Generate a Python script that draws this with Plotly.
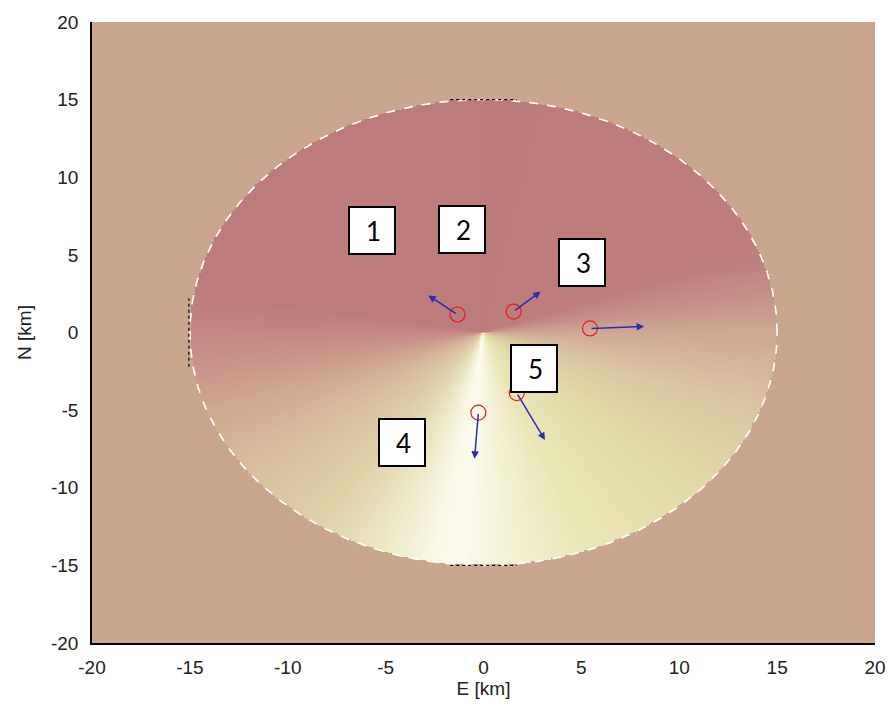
import numpy as np
import plotly.graph_objects as go

# ---- data -------------------------------------------------------------
disk_radius_km = 15.0

# colour of the field as a function of direction (deg, math angle, cut at north)
angle_stops = [-270, -190, -180, -170, -160, -145, -125, -110, -100, -95, -85, -70, -45, -20, 0, 10, 20, 90]
stop_colors = ["#BC7C7B", "#BC7C7B", "#C28782", "#C9968A", "#D0A890", "#D7BC9C",
               "#E0D0A8", "#EDE8C6", "#FAF8E6", "#FCFBEF", "#F4F2D6", "#E9E6B6",
               "#E3DCA9", "#DBC6A2", "#CFA894", "#C48F87", "#BD7E7C", "#BB7B7A"]

station_e = [-1.33, 1.54, 5.44, -0.26, 1.70]
station_n = [1.16, 1.35, 0.26, -5.16, -3.90]
vec_e = [-1.49, 1.38, 2.77, -0.20, 1.44]
vec_n = [1.23, 1.29, 0.13, -2.97, -3.03]

box_labels = ["1", "2", "3", "4", "5"]
box_e = [-5.69, -1.08, 5.03, -4.15, 2.56]
box_n = [6.58, 6.65, 4.50, -7.10, -2.32]

tick_vals = [-20, -15, -10, -5, 0, 5, 10, 15, 20]
tick_text = ["-20", "-15", "-10", "-5", "0", "5", "10", "15", "20"]

# ---- field ------------------------------------------------------------
g = np.linspace(-disk_radius_km, disk_radius_km, 301)
X, Y = np.meshgrid(g, g)
theta = np.degrees(np.arctan2(Y, X))
phi = np.where(theta > 90, theta - 360, theta)
phi = np.where(np.hypot(X, Y) <= disk_radius_km, phi, np.nan)

lo, hi = angle_stops[0], angle_stops[-1]
colorscale = [[(a - lo) / (hi - lo), c] for a, c in zip(angle_stops, stop_colors)]

fig = go.Figure()
fig.add_trace(go.Heatmap(x=g, y=g, z=phi, zmin=lo, zmax=hi, colorscale=colorscale,
                         showscale=False, hoverinfo="skip"))

# dashed white rim
t = np.linspace(0, 2 * np.pi, 400)
fig.add_trace(go.Scatter(x=disk_radius_km * np.cos(t), y=disk_radius_km * np.sin(t),
                         mode="lines", line=dict(color="white", width=1.6, dash="dash"),
                         hoverinfo="skip", showlegend=False))
# small black dotted rim segments
for xs, ys in [([-1.7, 1.7], [15, 15]), ([-1.7, 1.7], [-15, -15]), ([-15.05, -15.05], [-2.2, 2.2])]:
    fig.add_trace(go.Scatter(x=xs, y=ys, mode="lines",
                             line=dict(color="black", width=1.2, dash="dot"),
                             hoverinfo="skip", showlegend=False))

# stations
fig.add_trace(go.Scatter(x=station_e, y=station_n, mode="markers",
                         marker=dict(symbol="circle-open", size=15, color="#E41E1E",
                                     line=dict(width=1.2, color="#E41E1E")),
                         hoverinfo="skip", showlegend=False))

annotations = []
for x0, y0, de, dn in zip(station_e, station_n, vec_e, vec_n):
    annotations.append(dict(x=x0 + de, y=y0 + dn, ax=x0, ay=y0, xref="x", yref="y",
                            axref="x", ayref="y", showarrow=True, arrowhead=2,
                            arrowsize=1, arrowwidth=1.5, arrowcolor="#2B2BB5", text=""))
for lab, bx, by in zip(box_labels, box_e, box_n):
    annotations.append(dict(x=bx, y=by, xref="x", yref="y", showarrow=False,
                            text="\u2009" + lab, font=dict(family="Lato", size=26, color="black"),
                            bgcolor="white", bordercolor="black", borderwidth=2,
                            width=44, height=45, align="center", valign="middle", borderpad=0))

axis_common = dict(range=[-20, 20], tickvals=tick_vals, ticktext=tick_text,
                   showgrid=False, zeroline=False, automargin=False,
                   showline=True, linecolor="black", linewidth=1.5, ticks="",
                   tickfont=dict(family="Liberation Sans", size=19, color="#222"),
                   title_font=dict(family="Liberation Sans", size=19, color="#222"))

fig.update_layout(
    width=889, height=707,
    margin=dict(l=92, r=14, t=22, b=64),
    paper_bgcolor="white", plot_bgcolor="#CBA68E",
    xaxis=dict(**axis_common, title=dict(text="E [km]", standoff=4), ticklabelstandoff=6),
    yaxis=dict(**axis_common, title=dict(text="N [km]", standoff=14), ticklabelstandoff=8),
    annotations=annotations, showlegend=False,
)

fig.write_html("out.html", config={"displayModeBar": False},
               post_script="document.body.style.margin='0';document.body.style.overflow='hidden';")
